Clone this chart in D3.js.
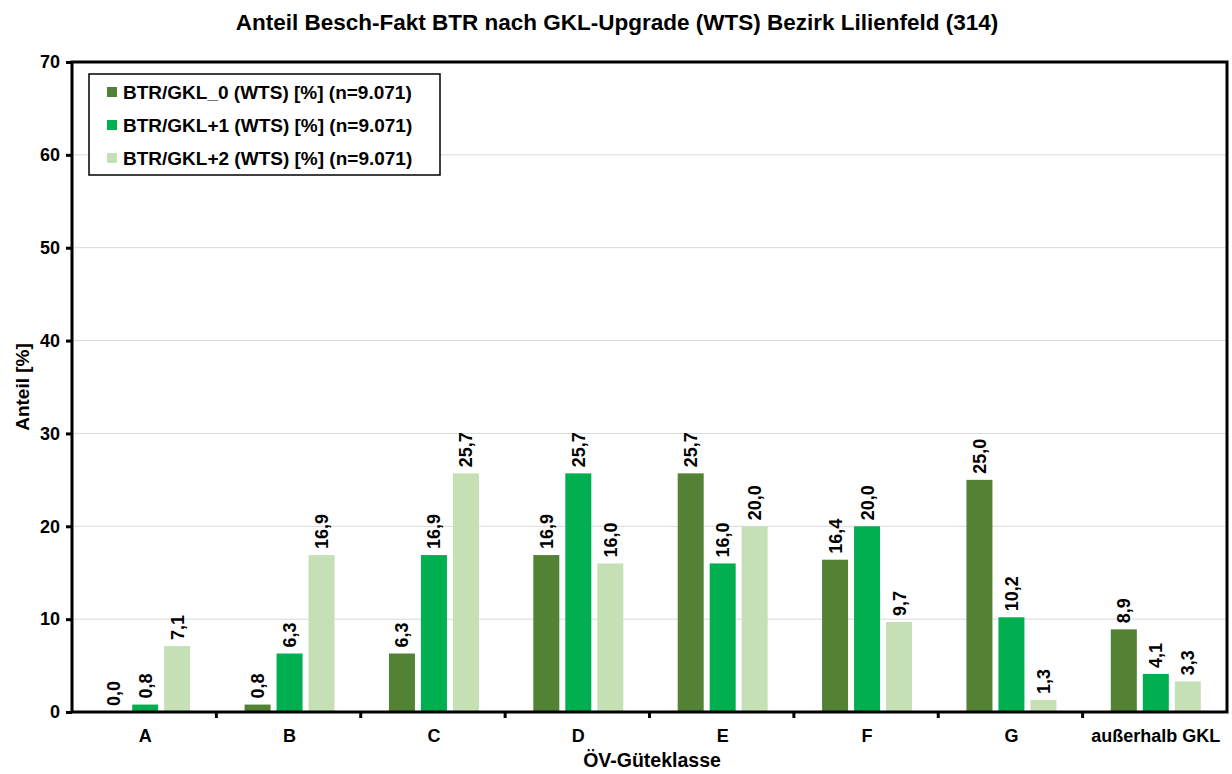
<!DOCTYPE html>
<html><head><meta charset="utf-8">
<script src="https://cdn.jsdelivr.net/npm/d3@7"></script>
<style>body{margin:0;background:#fff}text{font-family:"Liberation Sans",Arial,sans-serif;font-weight:bold}</style>
</head><body><svg id="c" width="1232" height="774"></svg>
<script>
const title = "Anteil Besch-Fakt BTR nach GKL-Upgrade (WTS) Bezirk Lilienfeld (314)";
const categories = ["A","B","C","D","E","F","G","außerhalb GKL"];
const seriesNames = ["BTR/GKL_0 (WTS) [%] (n=9.071)","BTR/GKL+1 (WTS) [%] (n=9.071)","BTR/GKL+2 (WTS) [%] (n=9.071)"];
const gkl0 = [0.0,0.8,6.3,16.9,25.7,16.4,25.0,8.9];
const gkl1 = [0.8,6.3,16.9,25.7,16.0,20.0,10.2,4.1];
const gkl2 = [7.1,16.9,25.7,16.0,20.0,9.7,1.3,3.3];
const yTicks = [0,10,20,30,40,50,60,70];
const colors = ["#548235","#00B050","#C5E0B4"];
const series = [gkl0,gkl1,gkl2];

const svg = d3.select("#c");
const L=72,R=1227,T=62,B=712;
const x = d3.scaleBand().domain(categories).range([L,R]).paddingInner(0).paddingOuter(0);
const xs = d3.scaleBand().domain([0,1,2]).range([0,x.bandwidth()]).paddingInner(0.1875).paddingOuter(0.85);
const y = d3.scaleLinear().domain([0,70]).range([B,T]);

svg.append("text").attr("x",617).attr("y",30).attr("text-anchor","middle").attr("font-size",22.5).text(title);

// grid
svg.append("g").selectAll("line").data(yTicks.slice(1,-1)).join("line")
 .attr("x1",L).attr("x2",R).attr("y1",d=>y(d)).attr("y2",d=>y(d)).attr("stroke","#d9d9d9").attr("stroke-width",1);

// bars
series.forEach((s,i)=>{
  const g=svg.append("g");
  g.selectAll("rect").data(s).join("rect")
   .attr("x",(d,j)=>x(categories[j])+xs(i)+1).attr("width",xs.bandwidth())
   .attr("y",d=>y(d)).attr("height",d=>B-y(d)).attr("fill",colors[i]);
  g.selectAll("text").data(s).join("text")
   .attr("transform",(d,j)=>`translate(${x(categories[j])+xs(i)+1+xs.bandwidth()/2+6.5},${y(d)-6}) rotate(-90)`)
   .attr("font-size",18).text(d=>d3.format(".1f")(d).replace(".",","));
});

// axes
const ya = svg.append("g").attr("transform",`translate(${L},0)`).call(d3.axisLeft(y).tickValues(yTicks).tickSize(6).tickPadding(6));
ya.select(".domain").remove();
ya.selectAll("line").attr("stroke-width",3);
ya.selectAll("text").attr("font-size",18).attr("font-family","Liberation Sans").attr("font-weight","bold").attr("fill","#000");

const xa = svg.append("g").attr("transform",`translate(0,${B})`);
xa.selectAll("line").data(d3.range(1,categories.length)).join("line")
 .attr("x1",i=>L+i*x.step()).attr("x2",i=>L+i*x.step()).attr("y1",0).attr("y2",6).attr("stroke","#000").attr("stroke-width",3);
xa.selectAll("text").data(categories).join("text")
 .attr("x",d=>x(d)+x.bandwidth()/2+1).attr("y",30).attr("text-anchor","middle").attr("font-size",18).text(d=>d);

// frame
svg.append("rect").attr("x",L).attr("y",T).attr("width",R-L).attr("height",B-T).attr("fill","none").attr("stroke","#000").attr("stroke-width",3);

svg.append("text").attr("x",652).attr("y",767).attr("text-anchor","middle").attr("font-size",19.5).text("ÖV-Güteklasse");
svg.append("text").attr("transform",`translate(29,${387}) rotate(-90)`).attr("text-anchor","middle").attr("font-size",19).text("Anteil [%]");

// legend
const lg = svg.append("g");
lg.append("rect").attr("x",89).attr("y",74).attr("width",351).attr("height",101).attr("fill","#fff").attr("stroke","#000").attr("stroke-width",1.5);
seriesNames.forEach((n,i)=>{
  const yy=92+i*33;
  lg.append("rect").attr("x",107).attr("y",yy-5).attr("width",10).attr("height",10).attr("fill",colors[i]);
  lg.append("text").attr("x",123).attr("y",yy+7).attr("font-size",19).text(n);
});
</script></body></html>
